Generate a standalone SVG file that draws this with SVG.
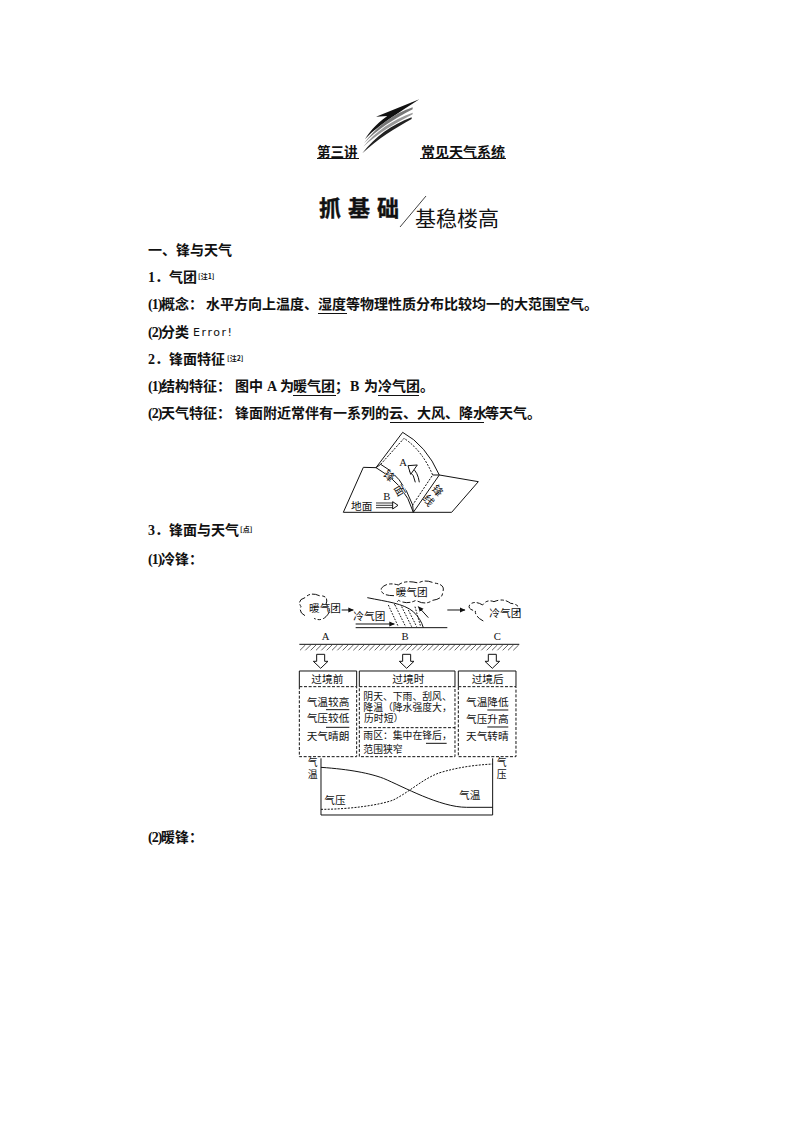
<svg xmlns="http://www.w3.org/2000/svg" width="794" height="1123" viewBox="0 0 794 1123">
<style>
text{fill:#111;font-family:"Noto Sans CJK SC","Liberation Serif",sans-serif}
.b{font-size:14px;font-weight:700}
.l{font-family:"Liberation Serif","Noto Sans CJK SC",serif;font-size:14px;font-weight:700}
.n{font-size:7px;font-weight:700}
.f{font-size:32px}
.w{font-size:29.500px}
.r{font-size:33px;text-anchor:middle;dominant-baseline:central}
.c{text-anchor:middle}
.s{fill:none;stroke:#111;stroke-width:3}
.d{fill:none;stroke:#111;stroke-width:3;stroke-dasharray:9 5}
.k{fill:none;stroke:#111;stroke-width:3;stroke-dasharray:24 7 10 6}
.u{stroke:#111;stroke-width:1;fill:none}
.a{fill:#fff;stroke:#111;stroke-width:3}
</style>
<defs>
<marker id="ah" markerWidth="6" markerHeight="6" refX="5" refY="3" orient="auto"><path d="M0,0.5L5.500,3L0,5.500z" fill="#111"/></marker>
<path id="hollow" d="M-12,-21H12V0H22L0,21L-22,0H-12z" class="a"/>
</defs>
<rect width="794" height="1123" fill="#fff"/>

<g id="logo" transform="translate(300,90) scale(.3333)">
<path d="M358,28L228,80L262,78C225,105 205,130 195,148C225,115 270,85 358,28z" fill="#111"/>
<path d="M338,52C280,70 225,115 192,160C230,120 285,85 338,58z" fill="#777"/>
<path d="M338,68C280,88 225,125 190,170C235,130 285,100 338,73z" fill="#999"/>
<path d="M335,82C275,105 225,140 187,190C235,145 285,115 335,87z" fill="#222"/>
</g>

<g id="title">
<text class="b" x="317" y="157" style="font-size:13.500px">第三讲</text>
<text class="b" x="421" y="157">常见天气系统</text>
<path class="u" d="M317,158.500H359M420,158.500H506"/>
<text x="319" y="216" style="font-size:22px;font-weight:700;letter-spacing:7px;stroke:#111;stroke-width:.4">抓基础</text>
<path class="u" d="M400,227L426,196" style="stroke-width:.8"/>
<text x="415" y="226" style="font-size:21px">基稳楼高</text>
</g>

<g id="body">
<text class="b" x="148" y="255">一、锋与天气</text>

<text class="l" x="148" y="282">1．</text><text class="b" x="169" y="282">气团</text><text class="n" x="198" y="279">[注1]</text>

<text class="l" x="148" y="309" style="letter-spacing:-1px">(1)</text><text class="b" x="161" y="309">概念：</text><text class="b" x="206" y="309">水平方向上温度、湿度等物理性质分布比较均一的大范围空气。</text>
<path class="u" d="M318,313.500H347"/>

<text class="l" x="148" y="337" style="letter-spacing:-1px">(2)</text><text class="b" x="161" y="337">分类</text><text x="193" y="336" textLength="39" style="font-family:'DejaVu Sans',sans-serif;font-size:11px">Error!</text>

<text class="l" x="148" y="364">2．</text><text class="b" x="169" y="364">锋面特征</text><text class="n" x="227" y="361">[注2]</text>

<text class="l" x="148" y="391" style="letter-spacing:-1px">(1)</text><text class="b" x="161" y="391">结构特征：</text><text class="b" x="235" y="391">图中</text><text class="l" x="267" y="391">A</text><text class="b" x="280" y="391">为</text><text class="b" x="293" y="391">暖气团；</text><text class="l" x="350" y="391">B</text><text class="b" x="364" y="391">为</text><text class="b" x="378" y="391">冷气团。</text>
<path class="u" d="M293,395.500H336M378,395.500H419"/>

<text class="l" x="148" y="418" style="letter-spacing:-1px">(2)</text><text class="b" x="161" y="418">天气特征：</text><text class="b" x="235" y="418">锋面附近常伴有一系列的云、大风、降水</text><text class="b" x="485" y="418">等天气。</text>
<path class="u" d="M390,422.500H484"/>

<text class="l" x="148" y="535">3．</text><text class="b" x="169" y="535">锋面与天气</text><text class="n" x="240" y="532">[点]</text>
<text class="l" x="148" y="564" style="letter-spacing:-1px">(1)</text><text class="b" x="161" y="564">冷锋：</text>
<text class="l" x="148" y="842" style="letter-spacing:-1px">(2)</text><text class="b" x="161" y="842">暖锋：</text>
</g>

<g id="front-figure" transform="translate(340,425) scale(.3333)">
<path class="s" d="M108,128L70,127L10,262H335L415,170L298,150"/>
<path class="a" d="M108,128L188,22Q258,60 298,150L220,262Q195,175 108,128z"/>
<path class="d" d="M122,118L192,40Q246,75 278,150L218,240" style="stroke-dasharray:6 4"/>
<path class="s" d="M108,128L122,118M298,150L278,150M220,262L218,240M122,118Q185,150 218,240"/>
<path class="s" d="M238,172Q234,142 216,128M226,172Q223,150 208,138"/>
<path class="a" d="M204,122L232,120L212,148z"/>
<path class="s" d="M108,234H160M108,241H160M108,248H160" style="stroke-width:2.500"/>
<path class="a" d="M158,230L174,241L158,252z"/>
<text class="f" x="178" y="124" style="font-family:'Liberation Serif',serif">A</text>
<text class="f" x="130" y="226" style="font-family:'Liberation Serif',serif">B</text>
<text class="f" x="33" y="254">地面</text>
<g fill="#fff"><circle cx="150" cy="150" r="15" fill="#fff"/><circle cx="182" cy="195" r="15" fill="#fff"/></g>
<text class="r" transform="translate(150,150) rotate(45)">锋</text>
<text class="r" transform="translate(182,195) rotate(60)">面</text>
<text class="r" transform="translate(295,195) rotate(50)">锋</text>
<text class="r" transform="translate(268,224) rotate(50)">线</text>
</g>

<g id="cold-front-scene" transform="translate(290,575) scale(.3333)">
<path class="k" d="M45,122Q25,112 33,95Q20,75 45,68Q62,50 88,62Q118,62 108,88Q128,105 108,125Q92,140 72,130"/>
<path class="k" d="M312,62Q270,62 274,40Q290,20 325,30Q345,14 385,24Q405,12 432,24Q468,28 458,52Q458,72 428,76Q405,92 378,76Q350,90 326,76Q316,86 312,90"/>
<path class="k" d="M580,138Q555,125 556,108Q530,102 540,88Q555,76 578,90Q590,72 612,80Q640,68 662,85Q692,88 688,112"/>
<text class="f" x="57" y="110">暖气团</text>
<text class="f" x="190" y="136">冷气团</text>
<text class="f" x="317" y="63">暖气团</text>
<text class="f" x="598" y="125">冷气团</text>
<path class="s" d="M155,105H190" marker-end="url(#ah)"/>
<path class="s" d="M197,147H313" marker-end="url(#ah)"/>
<path class="s" d="M472,105H525" marker-end="url(#ah)"/>
<path class="s" d="M415,128L385,95" marker-end="url(#ah)"/>
<path class="s" d="M197,158H472"/>
<path class="s" d="M232,68C290,80 340,85 370,110C385,125 395,140 400,158"/>
<path class="d" style="stroke-dasharray:5 4" d="M295,90L325,155M315,90L347,155M335,95L365,155M355,105L380,155M375,95L392,155"/>
<text class="f c" x="107" y="196" style="font-family:'Liberation Serif',serif">A</text>
<text class="f c" x="345" y="194" style="font-family:'Liberation Serif',serif">B</text>
<text class="f c" x="622" y="194" style="font-family:'Liberation Serif',serif">C</text>
<path class="s" d="M28,208H688"/>
<path class="s" style="stroke-width:2" d="M30,226L46,210M46,226L62,210M62,226L78,210M78,226L94,210M94,226L110,210M110,226L126,210M126,226L142,210M142,226L158,210M158,226L174,210M174,226L190,210M190,226L206,210M206,226L222,210M222,226L238,210M238,226L254,210M254,226L270,210M270,226L286,210M286,226L302,210M302,226L318,210M318,226L334,210M334,226L350,210M350,226L366,210M366,226L382,210M382,226L398,210M398,226L414,210M414,226L430,210M430,226L446,210M446,226L462,210M462,226L478,210M478,226L494,210M494,226L510,210M510,226L526,210M526,226L542,210M542,226L558,210M558,226L574,210M574,226L590,210M590,226L606,210M606,226L622,210M622,226L638,210M638,226L654,210M654,226L670,210M670,226L686,210"/>
<use href="#hollow" x="92" y="259"/>
<use href="#hollow" x="350" y="259"/>
<use href="#hollow" x="607" y="259"/>
</g>

<g id="stage-boxes" transform="translate(290,665) scale(.3333)">
<g id="box-before">
<path class="s" d="M28,65V18H200V65"/><path class="d" d="M28,65H200V275H28z"/>
<text class="f c" x="112" y="53">过境前</text>
<text class="f" x="50" y="123">气温较高</text><path class="s" d="M108,134H178"/>
<text class="f" x="50" y="171">气压较低</text><path class="s" d="M108,187H178"/>
<text class="f" x="50" y="224">天气晴朗</text>
</g>
<g id="box-during">
<path class="s" d="M208,65V18H495V65"/><path class="d" d="M208,65H495V275H208zM208,188H495"/>
<text class="f c" x="355" y="53">过境时</text>
<text class="w" x="220" y="105">阴天、下雨、刮风、</text>
<text class="w" x="220" y="138">降温（降水强度大，</text>
<text class="w" x="222" y="170">历时短）</text>
<text class="w" x="220" y="222">雨区：集中在锋后，</text><path class="s" d="M408,235H470"/>
<text class="w" x="220" y="263">范围狭窄</text>
</g>
<g id="box-after">
<path class="s" d="M505,65V18H678V65"/><path class="d" d="M505,65H678V275H505z"/>
<text class="f c" x="593" y="53">过境后</text>
<text class="f" x="528" y="123">气温降低</text><path class="s" d="M592,135H655"/>
<text class="f" x="528" y="174">气压升高</text><path class="s" d="M592,186H655"/>
<text class="f" x="528" y="226">天气转晴</text>
</g>
</g>

<g id="chart" transform="translate(290,750) scale(.3333)">
<path class="s" d="M93,25V195H608V25"/>
<path class="s" d="M93,52C180,58 240,70 280,85C340,110 450,172 530,172H608"/>
<path class="d" style="stroke-dasharray:6 4" d="M93,178C180,178 270,165 310,150C360,125 400,85 450,68C510,50 560,45 608,42"/>
<text class="w c" x="68" y="49">气</text><text class="w c" x="68" y="84">温</text>
<text class="w c" x="635" y="49">气</text><text class="w c" x="635" y="84">压</text>
<text class="f" x="103" y="163">气压</text>
<text class="f" x="507" y="148">气温</text>
</g>
</svg>
